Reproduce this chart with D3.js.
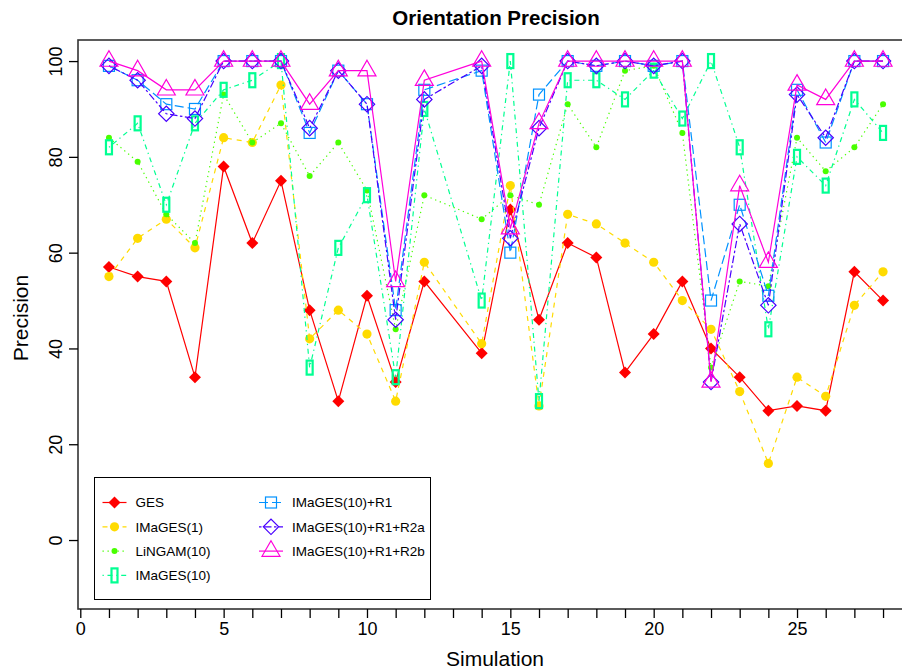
<!DOCTYPE html>
<html>
<head>
<meta charset="utf-8">
<script src="https://cdn.jsdelivr.net/npm/d3@7"></script>
<style>
  body { margin: 0; background: #fff; }
  text { font-family: "Liberation Sans", Arial, sans-serif; }
</style>
</head>
<body>
<div id="chart"></div>
<script>
var width = 902,
    height = 671;

// simulation 13 has no result
var sims = [1,2,3,4,5,6,7,8,9,10,11,12,14,15,16,17,18,19,20,21,22,23,24,25,26,27,28];

var ges      = [57,55,54,34,78,62,75,48,29,51,33,54,39,69,46,62,59,35,43,54,40,34,27,28,27,56,50];
var images1  = [55,63,67,61,84,83,95,42,48,43,29,58,41,74,28,68,66,62,58,50,44,31,16,34,30,49,56];
var lingam   = [84,79,68,62,93,83,87,76,83,73,44,72,67,72,70,91,82,98,99,85,36,54,53,84,77,82,91];
var images10 = [82,87,70,87,94,96,100,36,61,72,34,90,50,100,29,96,96,92,98,88,100,82,44,80,74,92,85];
var r1       = [99,96,91,90,100,100,100,85,98,91,48,94,98,60,93,100,99,100,99,100,50,70,51,94,83,100,100];
var r2a      = [99,96,89,88,100,100,100,86,98,91,46,92,99,63,86,100,99,100,99,100,33,66,49,93,84,100,100];
var r2b      = [100,98,94,94,100,100,100,91,98,98,54,96,100,65,87,100,100,100,100,100,33,74,58,95,92,100,100];

var seriesNames = ["GES", "IMaGES(1)", "LiNGAM(10)", "IMaGES(10)", "IMaGES(10)+R1", "IMaGES(10)+R1+R2a", "IMaGES(10)+R1+R2b"];
var seriesValues = [ges, images1, lingam, images10, r1, r2a, r2b];

var xTicks = d3.range(0, 29);
var xTickLabels = [0, 5, 10, 15, 20, 25];
var yTicks = [0, 20, 40, 60, 80, 100];

// rainbow(7)
var colors = ["#FF0000", "#FFDB00", "#49FF00", "#00FF92", "#0092FF", "#4900FF", "#FF00DB"];
var dashes = [null, "5,5", "1.3,3.7", "1.3,3.7,5,3.7", "9,4", "2.5,2.5,7.5,2.5", null];
var shapes = ["fdiamond", "fcircle", "dot", "rect", "square", "diamond", "triangle"];

var margin = {top: 40, left: 78, right: 914, bottom: 609};

var svg = d3.select("#chart").append("svg")
    .attr("width", width)
    .attr("height", height);

var x = d3.scaleLinear()
    .domain([-0.08, 29.08])
    .range([margin.left, margin.right]);

var y = d3.scaleLinear()
    .domain([-14.4, 104.4])
    .range([margin.bottom, margin.top]);

function marker(sel, shape, color) {
  if (shape == "fdiamond") {
    sel.append("path").attr("d", d3.symbol(d3.symbolSquare, 72)())
      .attr("transform", "rotate(45)").attr("fill", color);
  } else if (shape == "fcircle") {
    sel.append("circle").attr("r", 4.6).attr("fill", color);
  } else if (shape == "dot") {
    sel.append("circle").attr("r", 3).attr("fill", color);
  } else if (shape == "rect") {
    sel.append("rect").attr("x", -3).attr("y", -7).attr("width", 6).attr("height", 14)
      .attr("fill", "none").attr("stroke", color).attr("stroke-width", 2.2);
  } else if (shape == "square") {
    sel.append("rect").attr("x", -5.5).attr("y", -5.5).attr("width", 11).attr("height", 11)
      .attr("fill", "none").attr("stroke", color).attr("stroke-width", 1.2);
  } else if (shape == "diamond") {
    sel.append("path").attr("d", d3.symbol(d3.symbolSquare, 118)())
      .attr("transform", "rotate(45)")
      .attr("fill", "none").attr("stroke", color).attr("stroke-width", 1.2);
  } else if (shape == "triangle") {
    sel.append("path").attr("d", d3.symbol(d3.symbolTriangle, 140)())
      .attr("fill", "none").attr("stroke", color).attr("stroke-width", 1.2);
  }
}

var line = d3.line()
    .x(function(d, i) { return x(sims[i]); })
    .y(function(d) { return y(d); });

var plot = svg.append("g");

seriesValues.forEach(function(vals, k) {
  var g = plot.append("g");
  g.append("path")
    .attr("d", line(vals))
    .attr("fill", "none")
    .attr("stroke", colors[k])
    .attr("stroke-width", 1.2)
    .attr("stroke-dasharray", dashes[k]);
  g.selectAll("g.pt")
    .data(vals)
    .enter().append("g")
      .attr("class", "pt")
      .attr("transform", function(d, i) { return "translate(" + x(sims[i]) + "," + y(d) + ")"; })
      .each(function() { marker(d3.select(this), shapes[k], colors[k]); });
});

// box
svg.append("rect")
    .attr("x", margin.left)
    .attr("y", margin.top)
    .attr("width", margin.right - margin.left)
    .attr("height", margin.bottom - margin.top)
    .attr("fill", "none")
    .attr("stroke", "#333")
    .attr("stroke-width", 1.6);

// x axis
var xAxis = svg.append("g")
    .attr("transform", "translate(0," + margin.bottom + ")")
    .call(d3.axisBottom(x).tickValues(xTicks).tickSize(9).tickPadding(4)
      .tickFormat(function(d) { return xTickLabels.indexOf(d) >= 0 ? d : ""; }));
xAxis.select(".domain").remove();
xAxis.selectAll("line").attr("stroke", "#000").attr("stroke-width", 1.3);
xAxis.selectAll("text").attr("font-size", 18).attr("fill", "#000")
    .attr("font-family", "Liberation Sans, Arial, sans-serif");

// y axis
var yAxis = svg.append("g")
    .attr("transform", "translate(" + margin.left + ",0)")
    .call(d3.axisLeft(y).tickValues(yTicks).tickSize(9).tickFormat(d3.format("d")));
yAxis.select(".domain").remove();
yAxis.selectAll("line").attr("stroke", "#000").attr("stroke-width", 1.3);
yAxis.selectAll("text")
    .attr("font-size", 18).attr("fill", "#000")
    .attr("font-family", "Liberation Sans, Arial, sans-serif")
    .attr("text-anchor", "middle")
    .attr("x", null).attr("dy", null)
    .attr("transform", "translate(-16,0) rotate(-90)");

svg.append("text")
    .attr("x", 496)
    .attr("y", 25)
    .attr("text-anchor", "middle")
    .attr("font-size", 20.5)
    .attr("font-weight", "bold")
    .text("Orientation Precision");

svg.append("text")
    .attr("x", 495)
    .attr("y", 666)
    .attr("text-anchor", "middle")
    .attr("font-size", 21)
    .text("Simulation");

svg.append("text")
    .attr("transform", "translate(28,318) rotate(-90)")
    .attr("text-anchor", "middle")
    .attr("font-size", 21)
    .text("Precision");

// legend
var legend = svg.append("g");
legend.append("rect")
    .attr("x", 94.5).attr("y", 477.5)
    .attr("width", 336).attr("height", 122)
    .attr("fill", "#fff").attr("stroke", "#000").attr("stroke-width", 1);

var items = legend.selectAll("g.item")
    .data(seriesNames)
    .enter().append("g")
      .attr("class", "item")
      .attr("transform", function(d, i) {
        var col = i < 4 ? 0 : 1, row = i < 4 ? i : i - 4;
        return "translate(" + (col ? 271 : 114.5) + "," + (502.5 + row * 24.3) + ")";
      });

items.append("line")
    .attr("x1", -12).attr("x2", 12)
    .attr("stroke", function(d, i) { return colors[i]; })
    .attr("stroke-width", 1.2)
    .attr("stroke-dasharray", function(d, i) { return dashes[i]; });
items.each(function(d, i) { marker(d3.select(this), shapes[i], colors[i]); });
items.append("text")
    .attr("x", 21)
    .attr("dy", "0.35em")
    .attr("font-size", 13.5)
    .text(function(d) { return d; });
</script>
</body>
</html>
